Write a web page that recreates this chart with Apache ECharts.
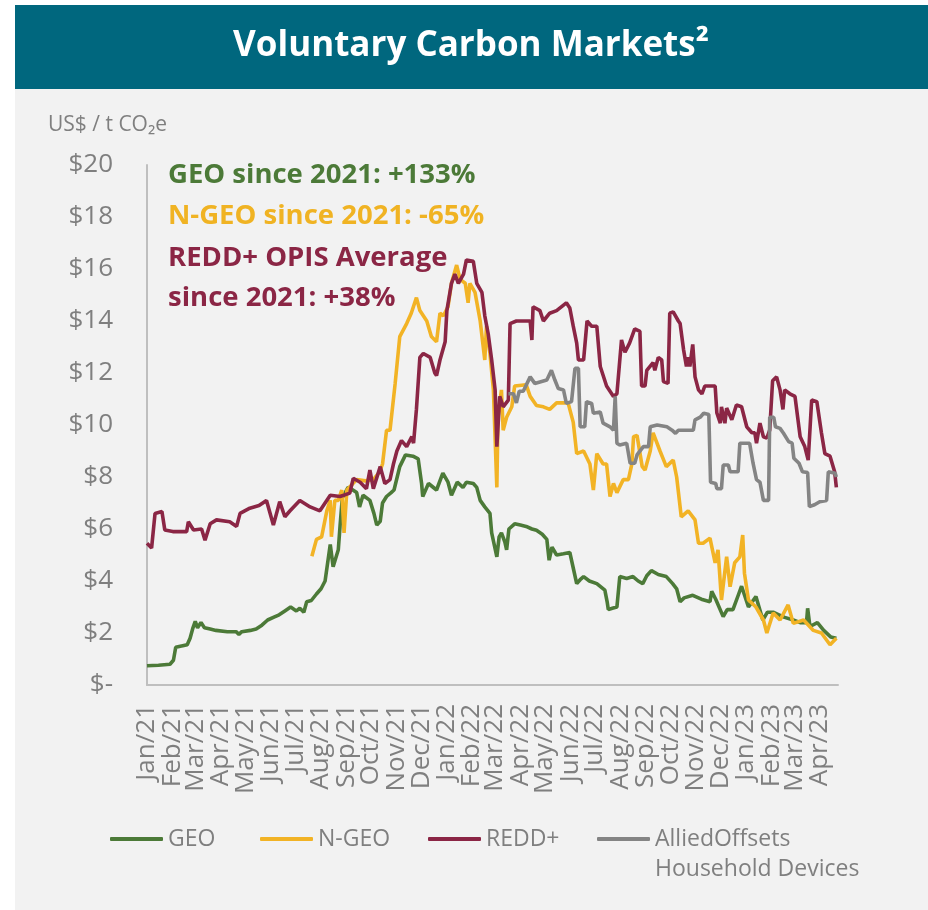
<!DOCTYPE html>
<html><head><meta charset="utf-8">
<script src="https://cdn.jsdelivr.net/npm/echarts@6/dist/echarts.min.js"></script>
<style>html,body{margin:0;padding:0;background:#fff;} #c{width:928px;height:910px;}</style>
</head><body><div id="c"></div>
<script>
// Month tick labels (first day of each month)
const monthLabels = ['Jan/21','Feb/21','Mar/21','Apr/21','May/21','Jun/21','Jul/21','Aug/21','Sep/21','Oct/21','Nov/21','Dec/21',
  'Jan/22','Feb/22','Mar/22','Apr/22','May/22','Jun/22','Jul/22','Aug/22','Sep/22','Oct/22','Nov/22','Dec/22',
  'Jan/23','Feb/23','Mar/23','Apr/23'];
const yTicks = [0,2,4,6,8,10,12,14,16,18,20];
const seriesNames = ['GEO','N-GEO','REDD+','AlliedOffsets Household Devices'];

// Each point: [weeks since 1 Jan 2021, US$ / t CO2e]
const geoData = [[0,0.74],[2,0.76],[4,0.8],[4.6,0.95],[5,1.45],[6,1.5],[7,1.55],[7.5,1.8],[8,2.2],[8.4,2.45],[8.8,2.2],[9.4,2.4],[10,2.2],[11,2.15],[12,2.1],[14,2.05],[15.5,2.05],[16,1.95],[16.5,2.05],[18,2.1],[19,2.15],[20,2.3],[21,2.5],[22,2.6],[23,2.7],[24,2.85],[25,3.0],[26,2.85],[26.6,2.95],[27.3,2.8],[27.8,3.2],[28.6,3.25],[29.5,3.5],[30.3,3.7],[31,4.0],[31.9,5.4],[32.4,4.55],[33.3,5.2],[33.6,6.1],[34,7.2],[35,7.6],[35.5,7.55],[36.5,7.4],[37,6.85],[37.6,7.3],[38.8,7.1],[39.5,6.6],[40,6.15],[40.6,6.3],[41,7.0],[41.7,7.25],[42.5,7.4],[43,7.5],[44,8.4],[45,8.85],[46.3,8.8],[47.2,8.7],[47.8,7.75],[48,7.25],[49,7.75],[50.4,7.5],[51.5,8.15],[52.4,7.8],[53,7.3],[54,7.8],[55,7.6],[55.6,7.8],[56.8,7.75],[57.4,7.6],[58,7.1],[58.8,6.85],[59.7,6.6],[60,5.85],[60.9,4.93],[61.3,5.7],[61.7,5.85],[62.3,5.5],[62.6,5.2],[63,6.0],[64,6.2],[65,6.15],[66,6.1],[67,6.0],[67.8,5.95],[68.8,5.8],[69.6,5.6],[70,4.8],[70.5,5.3],[71.3,5.0],[72.5,5.05],[73.6,5.1],[74.2,4.5],[74.8,3.9],[75.4,4.05],[76,4.17],[77,4.0],[78.3,3.9],[79.7,3.65],[80.1,3.2],[80.3,2.9],[81,2.95],[81.8,3.0],[82.3,4.17],[83.5,4.1],[84.6,4.17],[85.5,4.0],[86.3,3.9],[87,4.2],[87.8,4.4],[89,4.25],[90.4,4.17],[91.5,3.9],[92.2,3.7],[92.8,3.2],[93.5,3.35],[95,3.45],[96.5,3.3],[98,3.2],[98.3,3.6],[99,3.3],[100.3,2.63],[101,2.9],[102,2.9],[103,3.5],[103.5,3.8],[104.7,3.0],[106,3.4],[107.2,2.5],[108,2.8],[109,2.8],[110,2.7],[111,2.6],[112.5,2.5],[113.7,2.4],[114.8,2.4],[115,2.95],[115.4,2.25],[116.7,2.4],[117.8,2.1],[119,1.85],[120,1.8]];

const ngeoData = [[28.7,4.95],[29.5,5.6],[30.4,5.7],[31.3,6.7],[31.9,7.1],[32.1,5.7],[32.7,7.1],[33.3,7.1],[33.9,7.5],[34.3,5.85],[34.8,7.5],[36.5,7.9],[38,7.85],[39.4,7.9],[40.5,8.2],[41,8.5],[41.7,9.8],[42.3,9.8],[43.2,11.6],[44,13.4],[45.2,13.9],[46,14.3],[46.9,14.9],[47.5,14.4],[48.7,14.0],[49.5,13.4],[50.4,13.2],[51,14.3],[51.6,14.2],[52.4,14.55],[53,15.45],[53.9,16.15],[54.5,15.6],[55.4,15.45],[55.9,14.7],[56.2,15.45],[57.1,15.1],[58,14.0],[58.8,12.5],[59.1,13.8],[59.7,12.75],[60.3,11.35],[60.9,7.6],[61.1,10.3],[61.7,11.35],[62,9.8],[62.6,10.3],[63.5,10.7],[64,11.5],[66,11.55],[66.7,11.1],[67.8,10.75],[69,10.7],[70.1,10.6],[71.3,10.85],[73.3,10.85],[74.2,10.1],[74.8,8.9],[76,9.0],[77.1,8.5],[77.7,7.5],[78.3,8.9],[79.4,8.5],[80,8.5],[80.6,7.25],[81.2,7.75],[81.8,7.4],[82.9,7.9],[83.8,7.9],[84.4,8.5],[84.7,9.55],[85.3,9.6],[86.2,8.4],[86.7,8.27],[87.6,9.0],[88.1,9.7],[89.3,9.0],[90.4,8.4],[91.6,8.65],[92.2,8.0],[93,6.47],[94.2,6.7],[95.4,6.35],[96,5.45],[96.8,5.45],[98,5.65],[98.9,4.7],[99.4,5.2],[100,3.27],[100.9,4.93],[101.5,3.78],[102.3,4.7],[103.2,4.93],[103.7,5.77],[104,4.3],[104.7,3.27],[106,3.0],[107.3,2.5],[107.9,2.0],[109,2.77],[110.2,2.5],[111.6,3.08],[112.5,2.37],[114.3,2.5],[116,2.1],[117.4,2.0],[118.9,1.55],[120,1.8]];

const reddData = [[0,5.45],[0.8,5.27],[1.4,6.6],[2.6,6.67],[3.1,5.96],[4.5,5.9],[6.9,5.9],[7.2,6.28],[8.1,5.96],[9.5,6.0],[10.1,5.57],[11,6.2],[12.1,6.35],[14.4,6.28],[15.6,6.1],[16.2,6.6],[17.9,6.8],[19.5,6.9],[20.8,7.1],[22,6.15],[23.1,7.05],[24,6.47],[24.9,6.7],[26.6,7.1],[28.4,6.85],[30.1,6.7],[31.9,7.3],[33.6,7.25],[35.3,7.38],[35.9,7.95],[37.1,7.8],[38.2,7.55],[38.8,8.27],[39.4,7.55],[40.6,8.4],[41.4,7.75],[42.3,7.9],[42.9,8.5],[43.5,9.0],[44.3,9.4],[45.2,9.17],[46.1,9.55],[46.4,9.3],[46.9,10.6],[47.5,12.6],[48.1,12.75],[49.3,12.6],[50.1,12.0],[50.4,11.9],[51,12.5],[51.9,13.2],[52.2,14.4],[53,15.45],[53.6,15.8],[54.2,15.45],[55.1,15.8],[55.6,16.35],[56.8,16.3],[57.4,15.45],[58.3,15.1],[58.8,14.2],[59.4,13.5],[60,12.5],[60.6,11.35],[60.9,9.17],[61.4,11.1],[62,10.7],[62.9,10.96],[63.2,13.9],[64.3,14.0],[66.7,14.0],[67,13.27],[67.2,14.55],[68.4,14.4],[69,14.0],[70.1,14.3],[71.3,14.4],[73,14.7],[73.6,14.5],[74.2,13.8],[74.8,13.15],[75.1,12.5],[76,12.5],[76.6,14.0],[77.4,13.8],[78.3,13.8],[78.9,12.25],[80,11.5],[81.2,11.1],[81.8,11.2],[82.6,13.27],[83.2,12.8],[84,13.15],[84.9,13.7],[85.8,13.6],[86.1,11.5],[86.7,11.5],[87,12.1],[88.1,12.4],[88.4,12.1],[89,12.6],[89.6,12.5],[89.9,11.67],[90.7,11.6],[91,14.3],[91.6,14.35],[92.5,14.0],[92.8,13.9],[93.4,12.9],[93.9,12.25],[94.2,12.6],[94.5,12.25],[95,13.1],[95.4,11.85],[96,11.35],[96.6,11.2],[97.1,11.5],[98.9,11.5],[99.2,10.46],[99.8,10.07],[100,10.7],[100.6,10.07],[100.9,10.65],[101.8,10.2],[102.6,10.77],[103.5,10.7],[104.4,9.93],[105.3,9.7],[105.8,9.7],[106.1,9.3],[106.7,10.07],[107.3,9.55],[107.9,9.5],[108.4,9.8],[108.9,11.7],[109.6,11.85],[110.2,11.35],[110.7,10.6],[111,11.35],[111.9,11.2],[112.8,11.1],[113.7,9.55],[114.5,9.17],[115.1,8.65],[115.7,10.96],[116.6,10.9],[117.4,9.7],[118,8.9],[118.9,8.8],[119.7,8.2],[120,7.6]];

const alliedData = [[62.9,11.2],[63.8,11.2],[64.3,10.85],[64.8,11.3],[65.5,11.3],[66.7,11.85],[67.5,11.6],[69.6,11.73],[70.4,12.1],[71,11.73],[71.6,11.4],[72.5,11.35],[73,10.83],[73.9,10.9],[74.5,12.18],[75.1,12.18],[75.4,9.93],[76.2,9.93],[76.5,10.9],[77.4,10.83],[77.7,10.45],[78.9,10.5],[79.4,10.07],[80.6,9.93],[81.2,9.8],[81.5,11.1],[81.8,9.3],[82.3,9.23],[83.5,9.3],[84.1,8.53],[84.9,8.53],[85.3,8.85],[86.4,9.17],[87.3,9.17],[87.6,9.93],[88.8,10.0],[90.5,9.93],[91.4,9.8],[92,9.68],[92.5,9.8],[95.1,9.8],[95.4,10.2],[96.3,10.3],[96.9,10.45],[97.8,10.4],[98.1,7.8],[99,7.75],[99.2,7.55],[100,7.55],[100.3,8.46],[101.2,8.46],[101.5,8.2],[102.9,8.2],[103.2,9.3],[104.9,9.3],[105.5,8.53],[106.1,7.9],[106.7,7.8],[107.3,7.1],[108.2,7.1],[108.4,10.3],[109.1,10.3],[109.4,9.93],[110.2,9.87],[110.8,9.68],[111.7,9.36],[112.3,9.3],[112.6,8.72],[113.5,8.53],[114.1,8.2],[115,8.17],[115.3,6.86],[116.2,6.93],[117.1,7.05],[118.3,7.1],[118.6,8.2],[119.8,8.14],[120,8.0]];

const annotations = [
  {text:'GEO since 2021: +133%', color:'#4C7A38'},
  {text:'N-GEO since 2021: -65%', color:'#F0B323'},
  {text:'REDD+ OPIS Average', color:'#8B2645'},
  {text:'since 2021: +38%', color:'#8B2645'}
];

const MONTHS = ['Jan','Feb','Mar','Apr','May','Jun','Jul','Aug','Sep','Oct','Nov','Dec'];
const DAY0 = Date.UTC(2021,0,1);
const monthDays = monthLabels.map(l => { const p = l.split('/'); return (Date.UTC(2000 + Number(p[1]), MONTHS.indexOf(p[0]), 1) - DAY0) / 86400000; });
const labelByDay = {}; monthDays.forEach((d,i) => labelByDay[d] = monthLabels[i]);
const toXY = arr => arr.map(p => [p[0] * 7, p[1]]);
// split month ticks over two coincident axes so neighbouring labels never get culled
const evenDays = monthDays.filter((d,i) => i % 2 === 0);
const oddDays = monthDays.filter((d,i) => i % 2 === 1);

const colors = ['#4C7A38','#F2B325','#8B2645','#848484'];
const FONT = 'Open Sans';
const chart = echarts.init(document.getElementById('c'));

const graphics = [
  {type:'rect', z:-10, silent:true, shape:{x:15,y:89,width:913,height:821}, style:{fill:'#F2F2F2'}},
  {type:'rect', z:-9, silent:true, shape:{x:15,y:5,width:913,height:84}, style:{fill:'#00677E'}},
  {type:'text', z:10, x:471, y:46, style:{text:'Voluntary Carbon Markets\u00B2', fill:'#fff', font:'bold 35px "Open Sans"', align:'center', verticalAlign:'middle'}},
  {type:'text', z:10, x:48, y:125, style:{text:'US$ / t CO\u2082e', fill:'#7F7F7F', font:'21px "Open Sans"', align:'left', verticalAlign:'middle'}}
];
const annY = [175, 216, 258, 298];
annotations.forEach((a,i) => graphics.push({type:'text', z:10, x:168, y:annY[i], style:{text:a.text, fill:a.color, font:'bold 27.5px "Open Sans"', align:'left', verticalAlign:'middle'}}));

// one legend component per series so each entry sits where the reference has it
const legendLeft = [110, 260, 428, 597];
const legends = seriesNames.map((n,i) => ({
  left: legendLeft[i], top: i === 3 ? 794 : 824, padding:0,
  itemWidth:53, itemHeight:4, icon:'roundRect',
  data:[n],
  formatter: nm => nm === seriesNames[3] ? '{s| }\nAlliedOffsets\nHousehold Devices' : nm,
  textStyle:{fontSize:23, color:'#7F7F7F', lineHeight:30, fontFamily:FONT, rich:{s:{fontSize:23, lineHeight:30}}}
}));

const xAxisBase = (vals, showLine) => ({
  type:'value', min:0, max:842, position:'bottom', gridIndex:0,
  splitLine:{show:false},
  axisLine:{show:showLine, onZero:false, lineStyle:{color:'#BFBFBF', width:2}},
  axisTick:{show:false},
  axisLabel:{customValues: vals, formatter: v => labelByDay[v] || '', rotate:90, fontSize:26, color:'#7F7F7F', margin:19,
    hideOverlap:false, showMinLabel:true, showMaxLabel:true, fontFamily:FONT}
});

const datasets = [geoData, ngeoData, reddData, alliedData];
chart.setOption({
  animation:false,
  backgroundColor:'#fff',
  color: colors,
  textStyle:{fontFamily:FONT},
  grid:{left:147, top:165, right:90, bottom:225, containLabel:false},
  graphic: graphics,
  legend: legends,
  xAxis:[xAxisBase(evenDays, true), xAxisBase(oddDays, false)],
  yAxis:{
    type:'value', min:0, max:20, interval:2,
    splitLine:{show:false},
    axisLine:{show:true, lineStyle:{color:'#BFBFBF', width:2}},
    axisTick:{show:false},
    axisLabel:{formatter: v => v === 0 ? '$-' : '$' + v, fontSize:26, color:'#7F7F7F', margin:34, fontFamily:FONT, showMinLabel:true, showMaxLabel:true}
  },
  series: datasets.map((d,i) => ({
    name: seriesNames[i], type:'line', xAxisIndex:0, data: toXY(d), showSymbol:false, symbol:'none',
    lineStyle:{width:3.6, color:colors[i]}, itemStyle:{color:colors[i]}, z: 2 + i
  }))
});
</script></body></html>
